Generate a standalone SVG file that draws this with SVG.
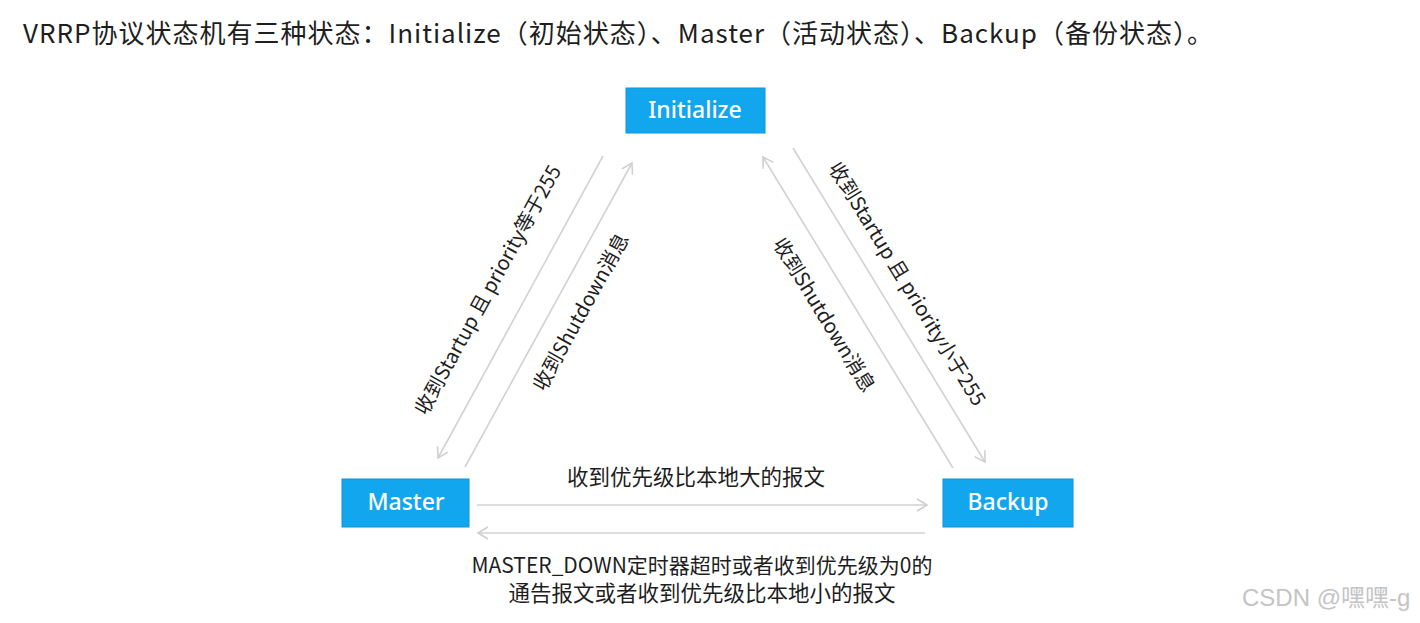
<svg xmlns="http://www.w3.org/2000/svg" width="1420" height="623" viewBox="0 0 1420 623">
<defs>
<marker id="arr" markerUnits="userSpaceOnUse" markerWidth="14" markerHeight="14" refX="12" refY="7" orient="auto">
<path d="M2,1 L12,7 L2,13" fill="none" stroke="#cfcfcf" stroke-width="1.6"/>
</marker>
<style>
.bg{fill:#ffffff}
.box{fill:#12a6ee;stroke:#0d94d8;stroke-width:1}
.boxt{font-family:"Noto Sans","Open Sans",sans-serif;font-size:23px;font-weight:500;fill:#ffffff;text-anchor:middle}
.cn{font-family:"Noto Sans CJK SC","Noto Sans",sans-serif;fill:#1e1e1e}
.lbl{font-size:20px;text-anchor:middle}
.conn line{stroke:#d2d2d2;stroke-width:1.6;fill:none;marker-end:url(#arr)}
.wm{font-family:"Liberation Sans","Noto Sans CJK SC",sans-serif;font-size:24px;fill:#c4c4c4}
</style>
</defs>
<rect class="bg" x="0" y="0" width="1420" height="623"/>
<text class="cn" x="23" y="43" font-size="26" textLength="1190" lengthAdjust="spacing">VRRP协议状态机有三种状态：Initialize（初始状态）、Master（活动状态）、Backup（备份状态）。</text>
<g id="connectors" class="conn">
<line x1="603" y1="156" x2="438" y2="458"/>
<line x1="465" y1="467" x2="632" y2="163"/>
<line x1="953" y1="468" x2="763" y2="157"/>
<line x1="793" y1="148" x2="985" y2="462"/>
<line x1="477" y1="505" x2="927" y2="505"/>
<line x1="925" y1="533" x2="478" y2="533"/>
</g>
<g id="edge-labels">
<text class="cn lbl" transform="translate(488,290) rotate(-61.2)" dy="0.35em">收到Startup 且 priority等于255</text>
<text class="cn lbl" transform="translate(581,312) rotate(-61.2)" dy="0.35em">收到Shutdown消息</text>
<text class="cn lbl" transform="translate(824,315) rotate(58.6)" dy="0.35em">收到Shutdown消息</text>
<text class="cn lbl" transform="translate(907,284) rotate(58.6)" dy="0.35em">收到Startup 且 priority小于255</text>
<text class="cn" x="696" y="485" font-size="21.5" text-anchor="middle">收到优先级比本地大的报文</text>
<text class="cn" x="702" y="573" font-size="21" text-anchor="middle">MASTER_DOWN定时器超时或者收到优先级为0的</text>
<text class="cn" x="702" y="601" font-size="21.5" text-anchor="middle">通告报文或者收到优先级比本地小的报文</text>
</g>
<g id="node-initialize">
<rect class="box" x="626" y="88" width="139" height="45"/>
<text class="boxt" x="695" y="118">Initialize</text>
</g>
<g id="node-master">
<rect class="box" x="342" y="479" width="127" height="48"/>
<text class="boxt" x="406" y="510">Master</text>
</g>
<g id="node-backup">
<rect class="box" x="943" y="479" width="130" height="48"/>
<text class="boxt" x="1008" y="510">Backup</text>
</g>
<text class="wm" x="1242" y="606">CSDN @嘿嘿-g</text>
</svg>
